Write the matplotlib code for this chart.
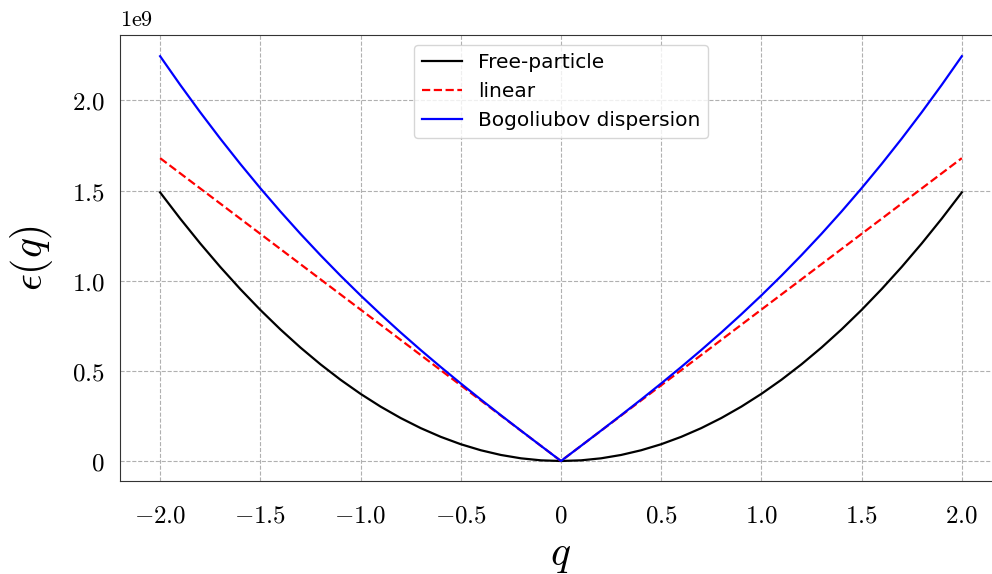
import matplotlib.pyplot as plt
from matplotlib.ticker import FixedLocator, FixedFormatter

plt.rcParams['mathtext.fontset'] = 'cm'

# momentum grid (positive half, mirrored below)
q_pos = [0.0, 0.1, 0.2, 0.3, 0.4, 0.5, 0.6, 0.7, 0.8, 0.9, 1.0,
         1.1, 1.2, 1.3, 1.4, 1.5, 1.6, 1.7, 1.8, 1.9, 2.0]
# energies in units of 1e9
free_pos = [0.0, 0.0037, 0.0149, 0.0335, 0.0596, 0.0931, 0.1341, 0.1825, 0.2384, 0.3017, 0.3725,
            0.4507, 0.5364, 0.6295, 0.7301, 0.8381, 0.9536, 1.0765, 1.2069, 1.3447, 1.49]
linear_pos = [0.0, 0.084, 0.168, 0.252, 0.336, 0.42, 0.504, 0.588, 0.672, 0.756, 0.84,
              0.924, 1.008, 1.092, 1.176, 1.26, 1.344, 1.428, 1.512, 1.596, 1.68]
bogo_pos = [0.0, 0.0841, 0.1687, 0.2542, 0.3412, 0.4302, 0.5215, 0.6156, 0.713, 0.814, 0.9188,
            1.028, 1.1418, 1.2604, 1.3842, 1.5132, 1.6479, 1.7883, 1.9346, 2.0869, 2.2455]

q = [-v for v in q_pos[:0:-1]] + q_pos
free = free_pos[:0:-1] + free_pos
linear = linear_pos[:0:-1] + linear_pos
bogo = bogo_pos[:0:-1] + bogo_pos

scale = 1e9
x_ticks = [-2.0, -1.5, -1.0, -0.5, 0.0, 0.5, 1.0, 1.5, 2.0]
x_labels = ['$-2.0$', '$-1.5$', '$-1.0$', '$-0.5$', '$0$', '$0.5$', '$1.0$', '$1.5$', '$2.0$']
y_ticks = [0.0, 0.5, 1.0, 1.5, 2.0]
y_labels = ['$0$', '$0.5$', '$1.0$', '$1.5$', '$2.0$']

fig = plt.figure(figsize=(9.92, 5.74), dpi=100)
# axes runs a bit past the right edge of the figure, as in the original
ax = fig.add_axes([0.121, 0.162, 0.889, 0.777])

ax.plot(q, [v * scale for v in free], color='black', lw=1.6, label='Free-particle')
ax.plot(q, [v * scale for v in linear], color='red', ls='--', lw=1.6, label='linear')
ax.plot(q, [v * scale for v in bogo], color='blue', lw=1.6, label='Bogoliubov dispersion')

ax.set_xlim(-2.2, 2.2)
ax.set_ylim(-0.111 * scale, 2.363 * scale)
ax.xaxis.set_major_locator(FixedLocator(x_ticks))
ax.xaxis.set_major_formatter(FixedFormatter(x_labels))
ax.yaxis.set_major_locator(FixedLocator([v * scale for v in y_ticks]))
ax.yaxis.set_major_formatter(FixedFormatter(y_labels))
ax.tick_params(length=0, labelsize=18)
ax.tick_params(axis='x', pad=16)
ax.tick_params(axis='y', pad=11)
ax.text(0.0, 1.012, r'$\mathrm{1e9}$', transform=ax.transAxes, fontsize=16, va='bottom', ha='left')

ax.grid(True, ls='--', color='#b0b0b0', lw=0.8)
for s in ax.spines.values():
    s.set_color('#333333')

ax.set_xlabel('$q$', fontsize=30, labelpad=4)
ax.set_ylabel(r'$\epsilon(q)$', fontsize=30, labelpad=12)

ax.legend(loc='upper center', fontsize=14.5)

fig.savefig('out.png', dpi=100)
